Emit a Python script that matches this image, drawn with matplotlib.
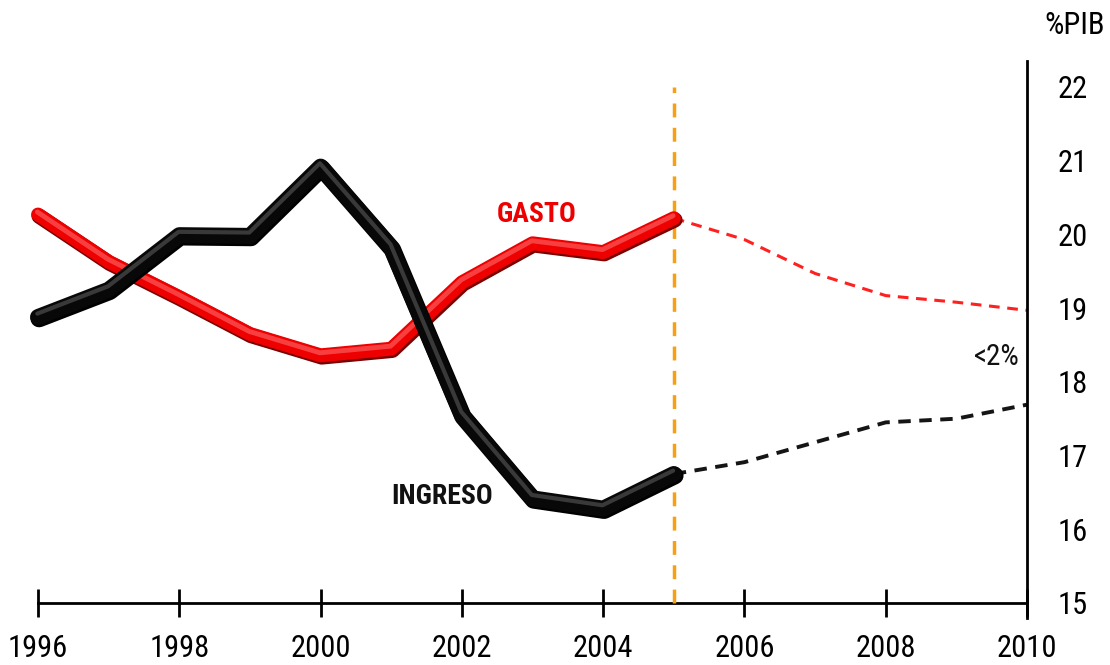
import matplotlib
matplotlib.use("Agg")
import matplotlib.pyplot as plt
import matplotlib.patheffects as pe
from matplotlib import font_manager

years_hist = [1996, 1997, 1998, 1999, 2000, 2001, 2002, 2003, 2004, 2005]
gasto_hist = [20.27, 19.63, 19.15, 18.65, 18.36, 18.45, 19.35, 19.88, 19.76, 20.22]
ingreso_hist = [18.88, 19.25, 19.99, 19.98, 20.92, 19.82, 17.55, 16.42, 16.28, 16.75]

years_proj = [2005, 2006, 2007, 2008, 2009, 2010]
gasto_proj = [20.22, 19.93, 19.47, 19.17, 19.08, 18.97]
ingreso_proj = [16.75, 16.91, 17.18, 17.45, 17.50, 17.69]

xticks = [1996, 1998, 2000, 2002, 2004, 2006, 2008, 2010]
yticks = [15, 16, 17, 18, 19, 20, 21, 22]
cutoff_year = 2005

avail = {f.name for f in font_manager.fontManager.ttflist}
stretch = 'normal'
fam = None
for cand in ['Liberation Sans Narrow', 'Roboto Condensed', 'Open Sans Condensed', 'DejaVu Sans Condensed']:
    if cand in avail:
        fam = cand
        break
if fam is None:
    fam = 'DejaVu Sans'
    stretch = 'condensed'
plt.rcParams['font.family'] = [fam, 'DejaVu Sans']
plt.rcParams['font.stretch'] = stretch

fig = plt.figure(figsize=(11.1, 6.65), dpi=100)
ax = fig.add_axes([2.7 / 1110, 0.0711, (1027 - 2.7) / 1110, 0.908 - 0.0711])
ax.set_xlim(1995.5, 2010)
ax.set_ylim(14.8, 22.35)

# projections
ax.plot(years_proj, gasto_proj, color='#ff2020', lw=2.2, dashes=(3.5, 2.5), zorder=2, clip_on=False)
ax.plot(years_proj, ingreso_proj, color='#151515', lw=2.8, dashes=(3.2, 2.2), zorder=2, clip_on=False)

# cutoff line
ax.plot([cutoff_year, cutoff_year], [15, 22], color='#f7a013', lw=2.5, dashes=(4, 3), zorder=3)

# historical thick 3D-ish lines
ax.plot(years_hist, gasto_hist, color='#ee0000', lw=10, solid_capstyle='round',
        solid_joinstyle='round', zorder=4, clip_on=False,
        path_effects=[pe.Stroke(linewidth=11, foreground='#7a0000', offset=(0.8, -1.2)),
                      pe.Normal(),
                      pe.Stroke(linewidth=3.5, foreground='#ff6a6a', offset=(-0.5, 1.8), alpha=0.6)])
ax.plot(years_hist, ingreso_hist, color='#080808', lw=11.5, solid_capstyle='round',
        solid_joinstyle='round', zorder=5, clip_on=False,
        path_effects=[pe.Stroke(linewidth=12.5, foreground='#000000', offset=(0.8, -1.2)),
                      pe.Normal(),
                      pe.Stroke(linewidth=3.0, foreground='#6a6a6a', offset=(-0.5, 2.4), alpha=0.5)])

# spines
for s in ['top', 'left']:
    ax.spines[s].set_visible(False)
ax.spines['bottom'].set_position(('data', 15))
ax.spines['bottom'].set_bounds(1996, 2010)
ax.spines['bottom'].set_linewidth(2)
ax.spines['right'].set_linewidth(2)

ax.set_xticks(xticks)
ax.set_xticklabels([str(x) for x in xticks])
ax.tick_params(axis='x', direction='inout', length=20, width=2, pad=12, labelsize=22)
ax.yaxis.tick_right()
ax.set_yticks(yticks)
ax.set_yticklabels([str(y) for y in yticks])
ax.tick_params(axis='y', length=0, pad=22, labelsize=22)

ax.text(2003.06, 20.27, 'GASTO', color='#ee0000', fontsize=20, fontweight='bold',
        ha='center', va='center', zorder=6)
ax.text(2001.72, 16.44, 'INGRESO', color='#111111', fontsize=20, fontweight='bold',
        ha='center', va='center', zorder=6)
ax.text(2009.57, 18.34, '<2%', color='#111111', fontsize=21, ha='center', va='center')
fig.text(1075 / 1110, 1 - 25 / 665, '%PIB', fontsize=22, ha='center', va='center')

fig.savefig('out.png', dpi=100)
